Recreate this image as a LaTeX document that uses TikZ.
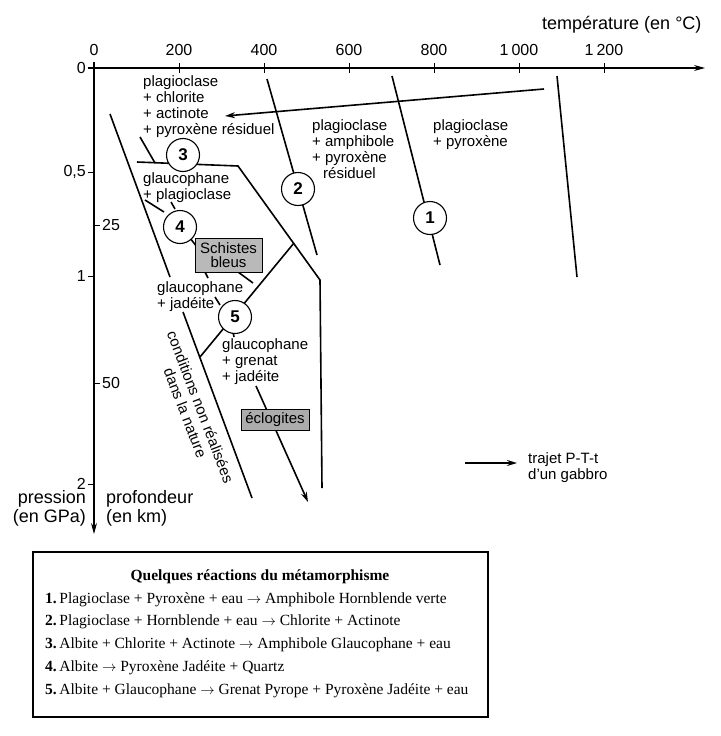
\documentclass[tikz,border=0pt]{standalone}
\usepackage{fontspec}
\setmainfont{Liberation Sans}
\newfontfamily\timesfont{Liberation Serif}
\usetikzlibrary{positioning}
\usetikzlibrary{calc}
\usetikzlibrary{arrows.meta}

\begin{document}
\begin{tikzpicture} [x=1pt, y=-1pt,
    zone/.style={anchor=north west, align=left, inner sep=0pt, font=\fontsize{15}{16.3}\selectfont},
    reac/.style={draw, circle, fill=white, line width=1.1pt, minimum size=33pt, inner sep=0pt, font=\fontsize{17}{17}\selectfont\bfseries},
    bound/.style={line width=1.6pt},
    trajet/.style={line width=1.6pt, -{Stealth[length=10pt, width=6pt]}},
    faciesbox/.style={draw, fill=gray!55, inner sep=0pt, align=center, font=\fontsize{15}{14}\selectfont}]
    % P-T diagram of a metamorphosed gabbro
    \useasboundingbox (0,0) rectangle (720,736);

    % axes
    \coordinate (Tstart) at (88,68);
    \coordinate (Tend) at (705,68);
    \coordinate (Pstart) at (94,62);
    \coordinate (Pend) at (94,534);
    \draw[line width=1.1pt, -{Stealth[length=11pt, width=6pt]}] (Tstart) -- (Tend);
    \draw[line width=1.1pt, -{Stealth[length=11pt, width=6pt]}] (Pstart) -- (Pend);
    \node (Ttitle) [anchor=east, font=\fontsize{18}{19}\selectfont] at (705,25) {température (en °C)};
    \node (Ptitle) [anchor=north east, align=right, inner sep=0pt, font=\fontsize{18}{19.5}\selectfont] at (86,490) {pression\\(en GPa)};
    \node (Ztitle) [anchor=north west, align=left, inner sep=0pt, font=\fontsize{18}{19.5}\selectfont] at (106,490) {profondeur\\(en km)};

    \foreach \t/\lab in {0/0, 200/200, 400/400, 600/600, 800/800, 1000/1\kern3pt000, 1200/1\kern3pt200} {
        \draw[line width=0.9pt] ({94+0.425*\t},63) -- ({94+0.425*\t},73);
        \node[font=\fontsize{16}{16}\selectfont] at ({94+0.425*\t},50) {\lab};
    }
    \foreach \p/\lab in {0/0, 0.5/{0,5}, 1/1, 2/2} {
        \draw[line width=0.9pt] (88,{68+208*\p}) -- (94,{68+208*\p});
        \node[anchor=east, inner sep=1pt, font=\fontsize{16}{16}\selectfont] at (87,{68+208*\p}) {\lab};
    }
    \foreach \z in {25, 50} {
        \draw[line width=0.9pt] (94,{67+6.32*\z}) -- (100,{67+6.32*\z});
        \node[anchor=west, inner sep=1pt, font=\fontsize{16}{16}\selectfont] at (101,{67+6.32*\z}) {\z};
    }

    % reaction boundaries
    \coordinate (R1a) at (392,76);  \coordinate (R1b) at (440,265);
    \coordinate (Fa) at (557,76);   \coordinate (Fb) at (577,277);
    \coordinate (R2a) at (267,79);  \coordinate (R2b) at (317,255);
    \coordinate (R3a) at (140,137); \coordinate (R3b) at (155,163);
    \coordinate (Ha) at (137,162);  \coordinate (Hb) at (238,166);
    \coordinate (Hc) at (320,280);  \coordinate (Hd) at (322,488);
    \coordinate (NRa) at (110,114); \coordinate (NRb) at (170,277);
    \coordinate (NRc) at (183,312); \coordinate (NRd) at (252,498);
    \coordinate (R5a) at (200,357); \coordinate (R5b) at (294,243);
    \draw[bound] (R1a) -- (R1b);
    \draw[bound] (Fa) -- (Fb);
    \draw[bound] (R2a) -- (R2b);
    \draw[bound] (R3a) -- (R3b);
    \draw[bound] (Ha) -- (Hb) -- (Hc) -- (Hd);
    \draw[bound] (NRa) -- (NRb);
    \draw[bound] (NRc) -- (NRd);
    \draw[bound] (R5a) -- (R5b);
    % pieces of reaction 4
    \draw[bound] (145,200) -- (164,212);
    \draw[bound] (171,202) -- (175,209);
    \draw[bound] (190,238) -- (197,247);
    \draw[bound] (205,272) -- (208,278);
    \draw[bound] (215,297) -- (220,305);
    \draw[bound] (233,332) -- (234,337);
    \draw[bound] (238,272) -- (253,283);

    % P-T-t path
    \coordinate (Ga) at (544,89);  \coordinate (Gb) at (225,116);
    \coordinate (Gc) at (256,386); \coordinate (Gd) at (308,502);
    \draw[trajet] (Ga) -- (Gb);
    \draw[trajet] (Gc) -- (Gd);

    % reaction numbers
    \node (C1) [reac] at (430,218) {1};
    \node (C2) [reac] at (298,189) {2};
    \node (C3) [reac] at (183,155) {3};
    \node (C4) [reac] at (180,227) {4};
    \node (C5) [reac] at (235,317) {5};

    % facies
    \node (SB) [faciesbox, minimum width=67pt, minimum height=34pt] at (228.5,255) {Schistes\\bleus};
    \node (EC) [faciesbox, fill=gray!65, minimum width=68pt, minimum height=21pt] at (275,420) {éclogites};

    % mineral assemblages
    \node (PCA) [zone] at (143,75) {plagioclase\\+ chlorite\\+ actinote\\+ pyroxène résiduel};
    \node (PAP) [zone] at (312,119) {plagioclase\\+ amphibole\\+ pyroxène\\\hspace*{11pt}résiduel};
    \node (PP) [zone] at (433,119) {plagioclase\\+ pyroxène};
    \node (GP) [zone] at (143,172) {glaucophane\\+ plagioclase};
    \node (GJ) [zone] at (157,281) {glaucophane\\+ jadéite};
    \node (GGJ) [zone] at (222,338) {glaucophane\\+ grenat\\+ jadéite};
    \node (NR) [align=center, inner sep=0pt, rotate=-69, font=\fontsize{15}{16.3}\selectfont] at (193,410) {conditions non réalisées\\dans la nature};

    % legend
    \coordinate (La) at (465,463); \coordinate (Lb) at (517,463);
    \draw[trajet] (La) -- (Lb);
    \node (LT) [zone] at (528,452) {trajet P-T-t\\d'un gabbro};

    % reactions box
    \draw[line width=1.2pt] (33,552) rectangle (488,717);
    \node (RT) [anchor=base, font=\timesfont\fontsize{15.5}{16}\selectfont\bfseries] at (260,580) {Quelques réactions du métamorphisme};
    \foreach \i/\txt in {1/Plagioclase + Pyroxène + eau $\rightarrow$ Amphibole Hornblende verte,
                         2/Plagioclase + Hornblende + eau $\rightarrow$ Chlorite + Actinote,
                         3/Albite + Chlorite + Actinote $\rightarrow$ Amphibole Glaucophane + eau,
                         4/Albite $\rightarrow$ Pyroxène Jadéite + Quartz,
                         5/Albite + Glaucophane $\rightarrow$ Grenat Pyrope + Pyroxène Jadéite + eau} {
        \node[anchor=base west, inner sep=0pt, font=\timesfont\fontsize{15.5}{16}\selectfont] at (45,{603+22.8*(\i-1)}) {\textbf{\i.}\,\txt};
    }

\end{tikzpicture}
\end{document}
